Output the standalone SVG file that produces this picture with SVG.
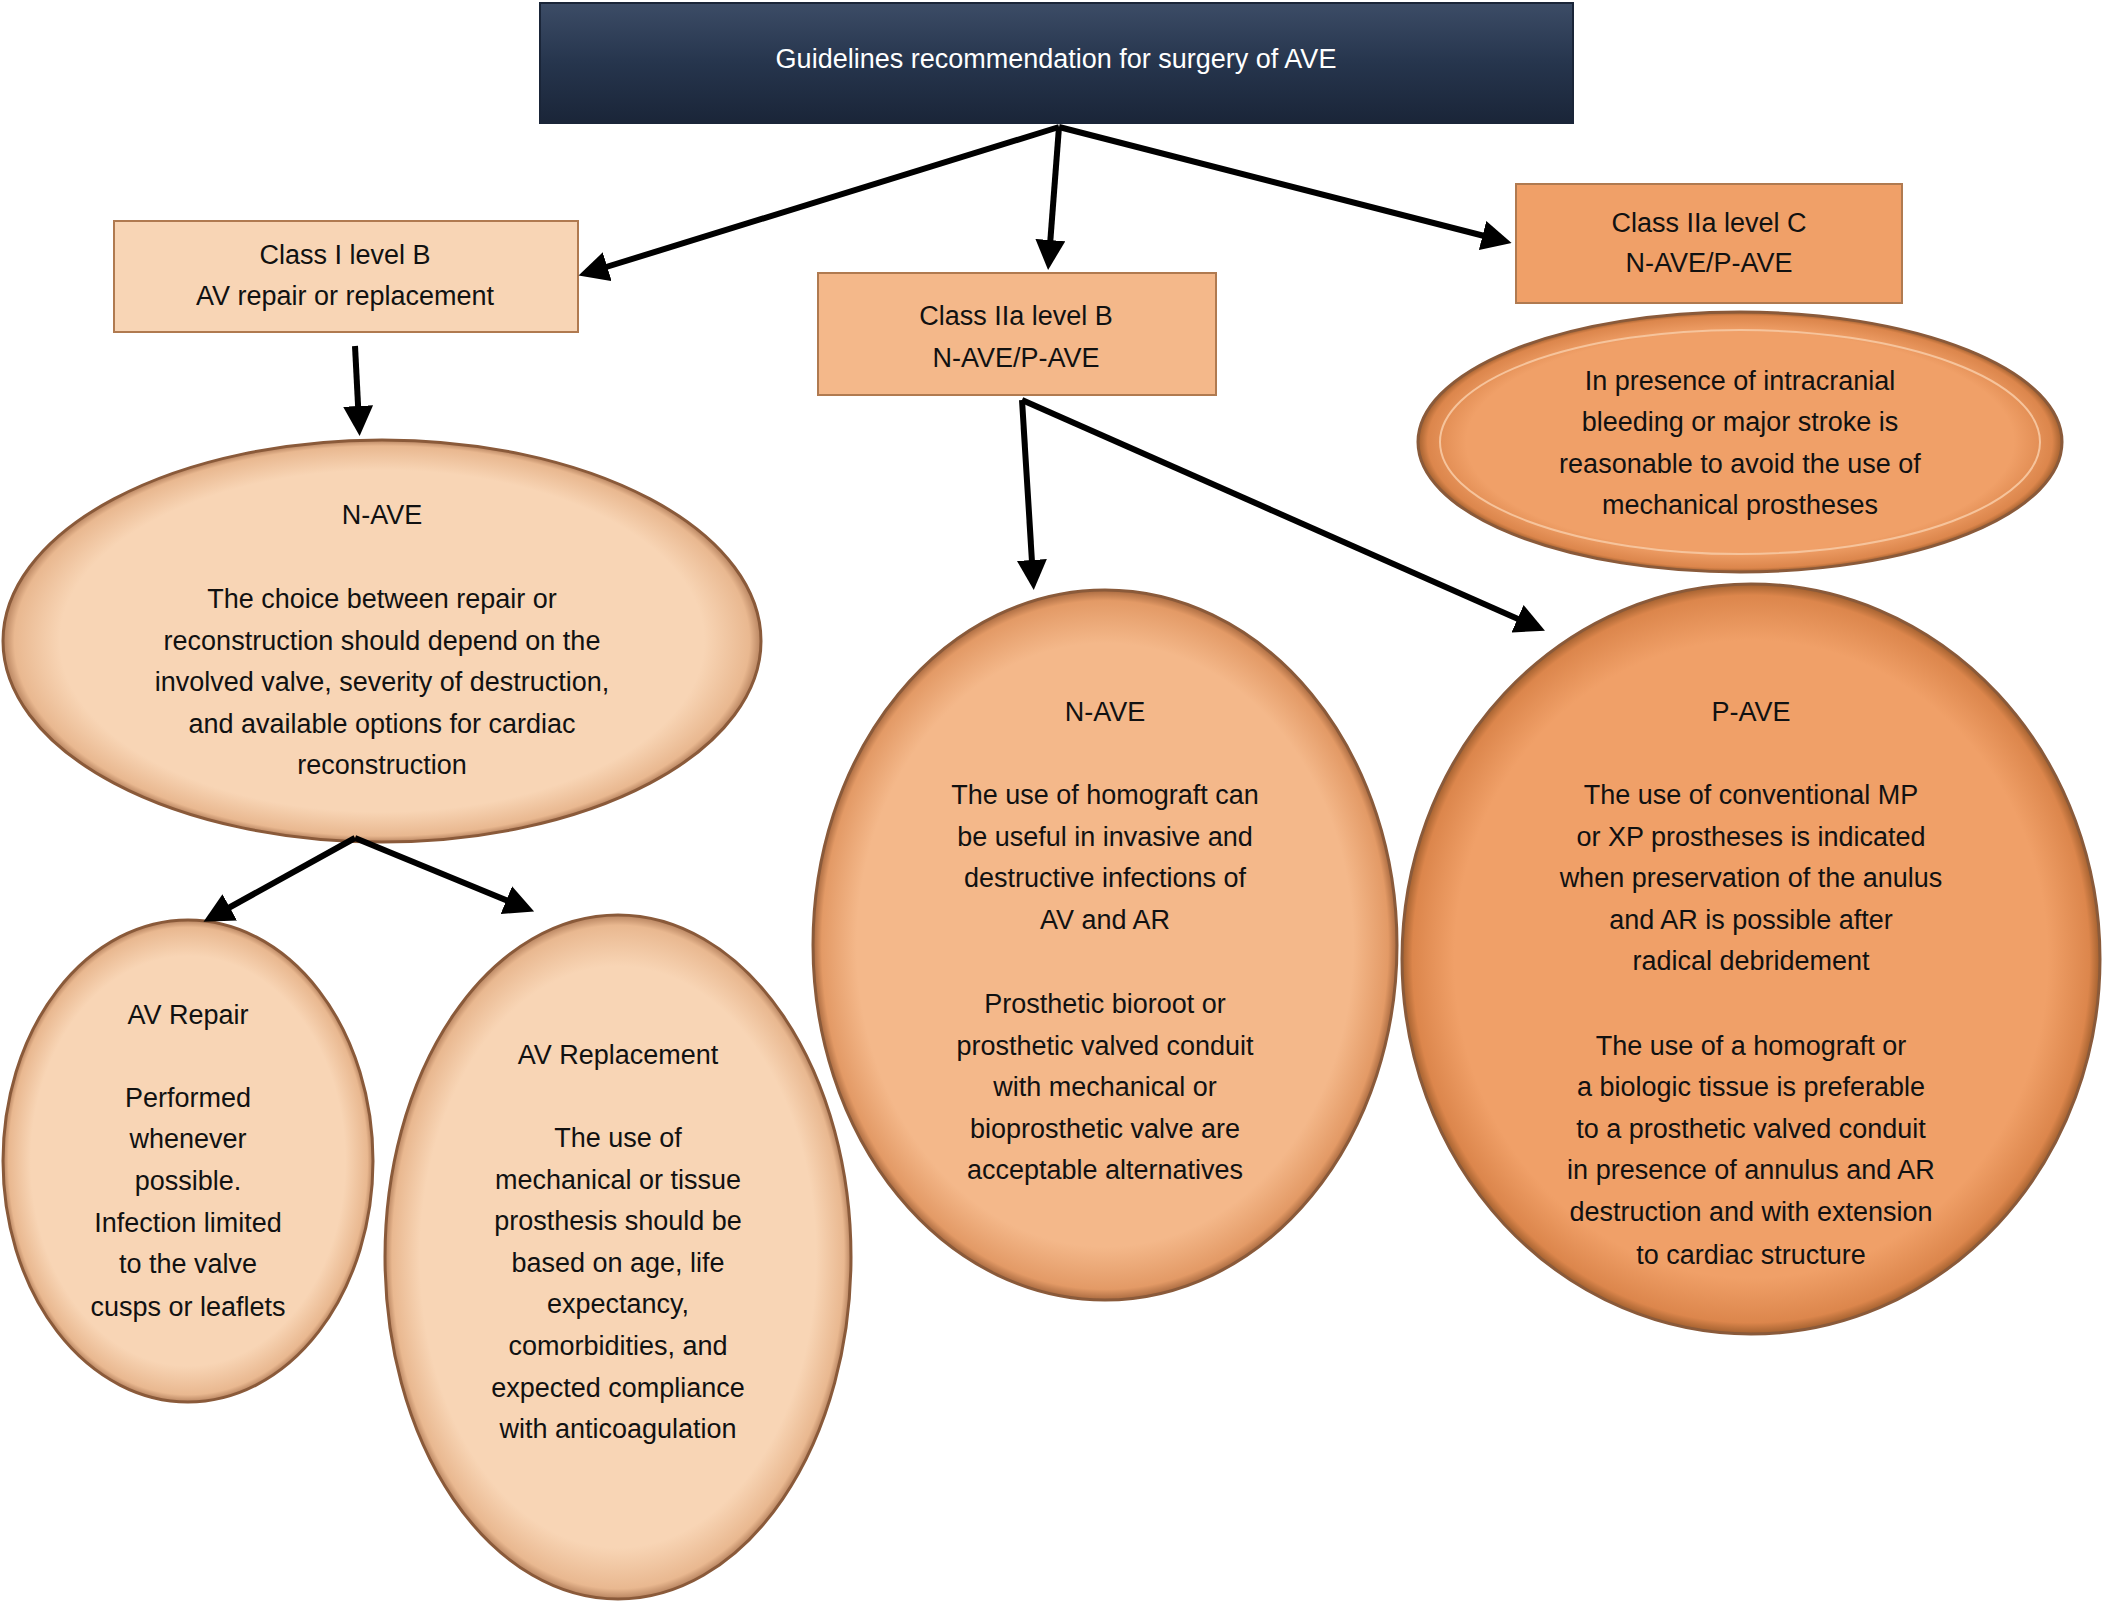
<svg xmlns="http://www.w3.org/2000/svg" width="2102" height="1606" viewBox="0 0 2102 1606">
<style>
text{font-family:"Liberation Sans",Arial,sans-serif;font-size:27px;fill:#111;text-anchor:middle;dominant-baseline:central}
.w{fill:#fff}
.c{stroke:#000;stroke-width:6;fill:none;marker-end:url(#ah)}
.box{stroke:#b07a50;stroke-width:2}
.ell{stroke:#8a5a3a;stroke-width:3}
</style>
<defs>
<marker id="ah" markerWidth="5" markerHeight="5" refX="3" refY="2.5" orient="auto" markerUnits="strokeWidth"><path d="M0,0 L5,2.5 L0,5 z" fill="#000"/></marker>
<linearGradient id="navy" x1="0" y1="0" x2="0" y2="1"><stop offset="0" stop-color="#3c4c66"/><stop offset="0.5" stop-color="#26354d"/><stop offset="1" stop-color="#1a2538"/></linearGradient>
<radialGradient id="g1" cx="0.5" cy="0.5" r="0.5"><stop offset="0.85" stop-color="#f8d5b5"/><stop offset="0.97" stop-color="#e9b890"/><stop offset="1" stop-color="#b7835f"/></radialGradient>
<radialGradient id="g2" cx="0.5" cy="0.5" r="0.5"><stop offset="0.85" stop-color="#f4b88a"/><stop offset="0.97" stop-color="#e39a66"/><stop offset="1" stop-color="#a96a40"/></radialGradient>
<radialGradient id="g3" cx="0.5" cy="0.5" r="0.5"><stop offset="0.85" stop-color="#f0a068"/><stop offset="0.97" stop-color="#dc864c"/><stop offset="1" stop-color="#a2602f"/></radialGradient>
</defs>
<g id="top"><rect x="540" y="3" width="1033" height="120" fill="url(#navy)" stroke="#1a2538" stroke-width="2"/><text class="w" x="1056" y="59">Guidelines recommendation for surgery of AVE</text></g>
<g id="classI"><rect class="box" x="114" y="221" width="464" height="111" fill="#f8d5b5"/><text x="345" y="255">Class I level B</text><text x="345" y="296">AV repair or replacement</text></g>
<g id="classIIaB"><rect class="box" x="818" y="273" width="398" height="122" fill="#f4b88a"/><text x="1016" y="316">Class IIa level B</text><text x="1016" y="358">N-AVE/P-AVE</text></g>
<g id="classIIaC"><rect class="box" x="1516" y="184" width="386" height="119" fill="#f0a068"/><text x="1709" y="223">Class IIa level C</text><text x="1709" y="263">N-AVE/P-AVE</text></g>
<g id="intracranial"><ellipse class="ell" cx="1740" cy="442" rx="322" ry="130" fill="url(#g3)"/><ellipse cx="1740" cy="442" rx="300" ry="112" fill="none" stroke="#f6c49c" stroke-width="2"/>
<text x="1740" y="381">In presence of intracranial</text><text x="1740" y="422">bleeding or major stroke is</text><text x="1740" y="464">reasonable to avoid the use of</text><text x="1740" y="505">mechanical prostheses</text></g>
<g id="naveLeft"><ellipse class="ell" cx="382" cy="641" rx="379" ry="201" fill="url(#g1)"/>
<text x="382" y="515">N-AVE</text><text x="382" y="599">The choice between repair or</text><text x="382" y="641">reconstruction should depend on the</text><text x="382" y="682">involved valve, severity of destruction,</text><text x="382" y="724">and available options for cardiac</text><text x="382" y="765">reconstruction</text></g>
<g id="avRepair"><ellipse class="ell" cx="188" cy="1161" rx="185" ry="241" fill="url(#g1)"/>
<text x="188" y="1015">AV Repair</text><text x="188" y="1098">Performed</text><text x="188" y="1139">whenever</text><text x="188" y="1181">possible.</text><text x="188" y="1223">Infection limited</text><text x="188" y="1264">to the valve</text><text x="188" y="1307">cusps or leaflets</text></g>
<g id="avReplacement"><ellipse class="ell" cx="618" cy="1257" rx="233" ry="342" fill="url(#g1)"/>
<text x="618" y="1055">AV Replacement</text><text x="618" y="1138">The use of</text><text x="618" y="1180">mechanical or tissue</text><text x="618" y="1221">prosthesis should be</text><text x="618" y="1263">based on age, life</text><text x="618" y="1304">expectancy,</text><text x="618" y="1346">comorbidities, and</text><text x="618" y="1388">expected compliance</text><text x="618" y="1429">with anticoagulation</text></g>
<g id="naveMid"><ellipse class="ell" cx="1105" cy="945" rx="292" ry="355" fill="url(#g2)"/>
<text x="1105" y="712">N-AVE</text><text x="1105" y="795">The use of homograft can</text><text x="1105" y="837">be useful in invasive and</text><text x="1105" y="878">destructive infections of</text><text x="1105" y="920">AV and AR</text><text x="1105" y="1004">Prosthetic bioroot or</text><text x="1105" y="1046">prosthetic valved conduit</text><text x="1105" y="1087">with mechanical or</text><text x="1105" y="1129">bioprosthetic valve are</text><text x="1105" y="1170">acceptable alternatives</text></g>
<g id="pave"><ellipse class="ell" cx="1751" cy="959" rx="349" ry="375" fill="url(#g3)"/>
<text x="1751" y="712">P-AVE</text><text x="1751" y="795">The use of conventional MP</text><text x="1751" y="837">or XP prostheses is indicated</text><text x="1751" y="878">when preservation of the anulus</text><text x="1751" y="920">and AR is possible after</text><text x="1751" y="961">radical debridement</text><text x="1751" y="1046">The use of a homograft or</text><text x="1751" y="1087">a biologic tissue is preferable</text><text x="1751" y="1129">to a prosthetic valved conduit</text><text x="1751" y="1170">in presence of annulus and AR</text><text x="1751" y="1212">destruction and with extension</text><text x="1751" y="1255">to cardiac structure</text></g>
<g id="connectors">
<line class="c" x1="1059" y1="127" x2="590" y2="272"/>
<line class="c" x1="1059" y1="127" x2="1049" y2="258"/>
<line class="c" x1="1059" y1="127" x2="1500" y2="240"/>
<line class="c" x1="355" y1="346" x2="359" y2="424"/>
<line class="c" x1="1022" y1="400" x2="1033" y2="578"/>
<line class="c" x1="1022" y1="400" x2="1534" y2="626"/>
<line class="c" x1="355" y1="838" x2="214" y2="916"/>
<line class="c" x1="355" y1="838" x2="523" y2="907"/>
</g>
</svg>
